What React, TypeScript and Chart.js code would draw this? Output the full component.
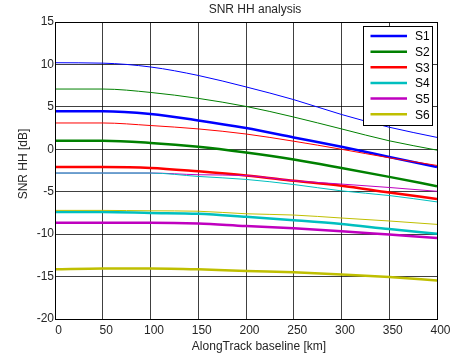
import { useEffect, useRef } from "react";
import { Chart, registerables } from "chart.js";

Chart.register(...registerables);

const baseline = [0, 50, 100, 150, 200, 250, 300, 350, 400];
const seriesNames = ["S1", "S2", "S3", "S4", "S5", "S6"];
const seriesColors = ["#0000ff", "#008000", "#ff0000", "#00bfbf", "#bf00bf", "#bfbf00"];

const s1Thick = [4.47, 4.47, 4.15, 3.4, 2.5, 1.4, 0.3, -0.9, -2.1];
const s1Thin = [10.2, 10.15, 9.7, 8.7, 7.35, 5.85, 4.1, 2.6, 1.4];
const s2Thick = [1.0, 1.0, 0.75, 0.3, -0.38, -1.2, -2.2, -3.25, -4.35];
const s2Thin = [7.1, 7.1, 6.7, 6.0, 5.05, 3.8, 2.4, 1.0, -0.1];
const s3Thick = [-2.1, -2.1, -2.2, -2.6, -3.08, -3.7, -4.3, -5.1, -5.85];
const s3Thin = [3.1, 3.1, 2.8, 2.4, 1.8, 0.95, 0.0, -1.0, -1.9];
const s4Thick = [-7.4, -7.4, -7.5, -7.6, -7.95, -8.35, -8.8, -9.4, -9.95];
const s4Thin = [-2.8, -2.8, -2.8, -3.2, -3.55, -4.15, -4.9, -5.45, -6.2];
const s5Thick = [-8.65, -8.65, -8.65, -8.75, -9.05, -9.3, -9.65, -10.05, -10.45];
const s5Thin = [-2.8, -2.8, -2.8, -3.0, -3.1, -3.7, -4.1, -4.5, -4.95];
const s6Thick = [-14.15, -14.05, -14.05, -14.15, -14.35, -14.5, -14.75, -15.05, -15.45];
const s6Thin = [-7.2, -7.2, -7.25, -7.3, -7.6, -7.75, -8.1, -8.45, -8.85];

const thickSeries = [s1Thick, s2Thick, s3Thick, s4Thick, s5Thick, s6Thick];
const thinSeries = [s1Thin, s2Thin, s3Thin, s4Thin, s5Thin, s6Thin];

const titleText = "SNR HH analysis";
const xTitle = "AlongTrack baseline [km]";
const yTitle = "SNR HH [dB]";

const FONT = "Liberation Sans, Arial, sans-serif";

const decorPlugin = {
  id: "decor",
  afterDraw(chart: any) {
    const ctx = chart.ctx as CanvasRenderingContext2D;
    const a = chart.chartArea;
    ctx.save();
    // axes box
    ctx.strokeStyle = "#000";
    ctx.lineWidth = 1;
    ctx.strokeRect(Math.round(a.left) + 0.5, Math.round(a.top) + 0.5, Math.round(a.right - a.left), Math.round(a.bottom - a.top));
    // titles
    ctx.fillStyle = "#262626";
    ctx.font = `12px ${FONT}`;
    ctx.textAlign = "center";
    ctx.textBaseline = "middle";
    ctx.fillText(titleText, 255, 10);
    ctx.fillText(xTitle, 259, 347);
    ctx.save();
    ctx.translate(24, 164);
    ctx.rotate(-Math.PI / 2);
    ctx.fillText(yTitle, 0, 0);
    ctx.restore();
    // legend
    const lx = 363.5, ly = 26.5, lw = 69, lh = 99;
    ctx.fillStyle = "#fff";
    ctx.fillRect(lx, ly, lw, lh);
    ctx.strokeStyle = "#000";
    ctx.strokeRect(lx, ly, lw, lh);
    const items = chart.data.datasets.filter((d: any) => d.label);
    items.forEach((d: any, i: number) => {
      const y = 36 + i * 15.65;
      ctx.strokeStyle = d.borderColor;
      ctx.lineWidth = 2.5;
      ctx.beginPath();
      ctx.moveTo(370.5, y);
      ctx.lineTo(407, y);
      ctx.stroke();
      ctx.fillStyle = "#000";
      ctx.textAlign = "left";
      ctx.fillText(d.label, 415, y + 1);
    });
    ctx.restore();
  },
};

export default function App() {
  const ref = useRef<HTMLCanvasElement | null>(null);
  useEffect(() => {
    if (!ref.current) return;
    const datasets: any[] = [];
    thinSeries.forEach((vals, i) => {
      datasets.push({
        label: "",
        data: baseline.map((x, j) => ({ x, y: vals[j] })),
        borderColor: seriesColors[i],
        borderWidth: 1,
        pointRadius: 0,
        cubicInterpolationMode: "monotone",
        fill: false,
      });
    });
    thickSeries.forEach((vals, i) => {
      datasets.push({
        label: seriesNames[i],
        data: baseline.map((x, j) => ({ x, y: vals[j] })),
        borderColor: seriesColors[i],
        borderWidth: 2.5,
        pointRadius: 0,
        cubicInterpolationMode: "monotone",
        fill: false,
      });
    });
    const chart = new Chart(ref.current, {
      type: "line",
      data: { datasets },
      plugins: [decorPlugin],
      options: {
        animation: false,
        responsive: false,
        maintainAspectRatio: false,
        layout: { padding: { top: 22, right: 19, bottom: 0, left: 0 } },
        plugins: {
          legend: { display: false },
          title: { display: false },
          tooltip: { enabled: false },
        },
        scales: {
          x: {
            type: "linear",
            min: 0,
            max: 400,
            afterFit: (s: any) => { s.height = 39; },
            ticks: {
              stepSize: 50,
              color: "#262626",
              font: { family: FONT, size: 12 },
              padding: 4,
              labelOffset: 3.5,
              maxRotation: 0,
            },
            grid: { color: "rgba(0,0,0,0.75)", lineWidth: 1, drawTicks: false },
            border: { display: false },
          },
          y: {
            type: "linear",
            min: -20,
            max: 15,
            afterFit: (s: any) => { s.width = 55; },
            ticks: {
              stepSize: 5,
              color: "#262626",
              font: { family: FONT, size: 12 },
              padding: 1,
            },
            grid: { color: "rgba(0,0,0,0.75)", lineWidth: 1, drawTicks: false },
            border: { display: false },
          },
        },
      } as any,
    });
    return () => chart.destroy();
  }, []);
  return (
    <div style={{ position: "fixed", left: 0, top: 0, width: 456, height: 358, background: "#fff" }}>
      <canvas ref={ref} width={456} height={358} style={{ width: 456, height: 358 }} />
    </div>
  );
}
